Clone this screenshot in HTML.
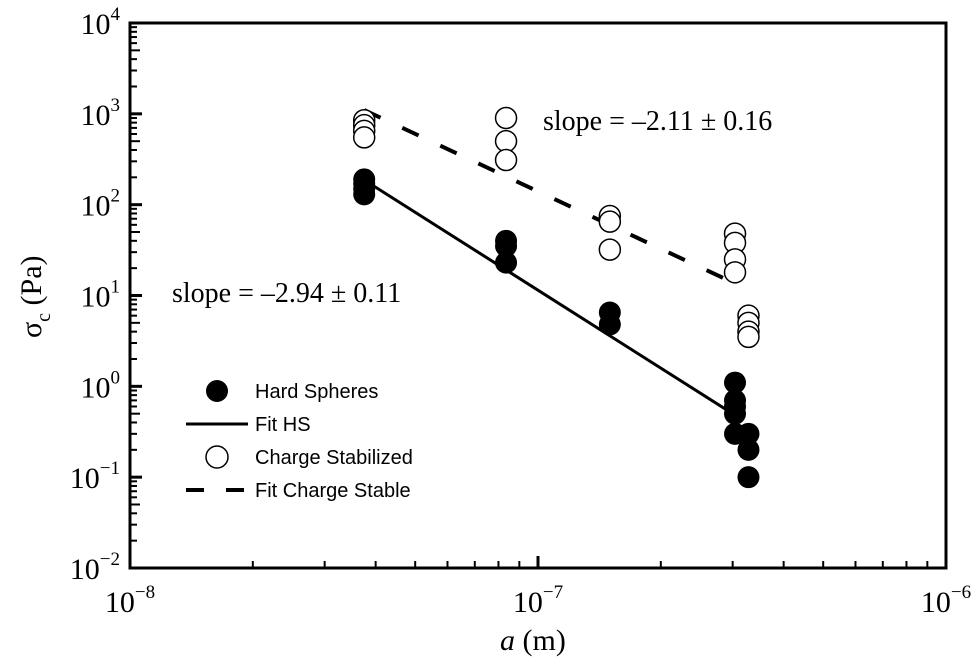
<!DOCTYPE html>
<html><head><meta charset="utf-8"><style>
body{margin:0;background:#fff;}
svg{display:block;}
.tk{font-family:"Liberation Serif",serif;font-size:30px;fill:#000;}
.an{font-family:"Liberation Serif",serif;font-size:28px;fill:#000;}
.lg{font-family:"Liberation Sans",sans-serif;font-size:20px;fill:#000;}
</style></head><body>
<svg id="chart" width="974" height="663" xmlns="http://www.w3.org/2000/svg">
<g id="axes"></g>
<g id="marks"></g>
<text class="an" x="172" y="302">slope = –2.94 ± 0.11</text>
<text class="an" x="543" y="130">slope = –2.11 ± 0.16</text>
<text class="tk" x="500" y="650"><tspan font-style="italic">a</tspan> (m)</text>
<text class="tk" transform="translate(41,338) rotate(-90)">σ<tspan font-size="20" dy="9">c</tspan><tspan dy="-9"> (Pa)</tspan></text>
<g id="legend">
<circle cx="217" cy="391" r="11" fill="#000"/>
<text class="lg" x="255" y="398">Hard Spheres</text>
<line x1="186" y1="424" x2="248" y2="424" stroke="#000" stroke-width="3"/>
<text class="lg" x="255" y="431">Fit HS</text>
<circle cx="217" cy="457" r="11" fill="#fff" stroke="#000" stroke-width="1.5"/>
<text class="lg" x="255" y="464">Charge Stabilized</text>
<line x1="186" y1="490" x2="248" y2="490" stroke="#000" stroke-width="4" stroke-dasharray="18,22"/>
<text class="lg" x="255" y="497">Fit Charge Stable</text>
</g>
</svg>
<script>
const hsX=[3.75e-8,3.75e-8,3.75e-8,3.75e-8,8.35e-8,8.35e-8,8.35e-8,1.5e-7,1.5e-7,3.04e-7,3.04e-7,3.04e-7,3.04e-7,3.04e-7,3.28e-7,3.28e-7,3.28e-7];
const hsY=[190,170,150,130,40,35,23,6.5,4.8,1.1,0.7,0.6,0.5,0.3,0.3,0.2,0.1];
const csX=[3.75e-8,3.75e-8,3.75e-8,3.75e-8,8.35e-8,8.35e-8,8.35e-8,1.5e-7,1.5e-7,1.5e-7,3.04e-7,3.04e-7,3.04e-7,3.04e-7,3.28e-7,3.28e-7,3.28e-7,3.28e-7];
const csY=[850,750,650,550,900,500,310,75,65,32,48,38,25,18,6,5,4,3.5];
const fitHsX=[3.75e-8,3.0e-7];
const fitHsY=[187,0.5];
const fitCsX=[3.75e-8,3.1e-7];
const fitCsY=[1100,13];
const xTickExp=[-8,-7,-6];
const yTickExp=[-2,-1,0,1,2,3,4];

const L=130,R=946,T=23,B=568;
const xs=v=>L+(Math.log10(v)+8)*(R-L)/2;
const ys=v=>B-(Math.log10(v)+2)*(B-T)/6;
const NS="http://www.w3.org/2000/svg";
function mk(tag,attrs,parent){const e=document.createElementNS(NS,tag);for(const k in attrs)e.setAttribute(k,attrs[k]);parent.appendChild(e);return e;}
const ax=document.getElementById('axes'),mg=document.getElementById('marks');
let f=mk('rect',{x:L,y:T,width:R-L,height:B-T,fill:'none',stroke:'#000','stroke-width':3},ax);


yTickExp.forEach(e=>{
  const y=ys(Math.pow(10,e));
  let t=mk('line',{x1:L,x2:L+12,y1:y,y2:y,stroke:'#000','stroke-width':3},ax);
  
  
  if(e<4)for(let m=2;m<10;m++){const yy=ys(m*Math.pow(10,e));
    let tm=mk('line',{x1:L,x2:L+(m==5?10:7),y1:yy,y2:yy,stroke:'#000','stroke-width':2},ax);
    
    }
  let tx=mk('text',{class:'tk',x:L-10,y:y+11,'text-anchor':'end'},ax);
  
  
  tx.innerHTML='10<tspan font-size="19" dy="-14">'+(e<0?'−'+(-e):e)+'</tspan>';
});
xTickExp.forEach(e=>{
  const x=xs(Math.pow(10,e));
  let t=mk('line',{x1:x,x2:x,y1:B,y2:B-12,stroke:'#000','stroke-width':3},ax);
  
  
  if(e<-6)for(let m=2;m<10;m++){const xx=xs(m*Math.pow(10,e));
    let tm=mk('line',{x1:xx,x2:xx,y1:B,y2:B-7,stroke:'#000','stroke-width':2},ax);
    
    }
  let tx=mk('text',{class:'tk',x:x,y:B+44,'text-anchor':'middle'},ax);
  
  
  tx.innerHTML='10<tspan font-size="19" dy="-14">−'+(-e)+'</tspan>';
});
let lh=mk('line',{x1:xs(fitHsX[0]),y1:ys(fitHsY[0]),x2:xs(fitHsX[1]),y2:ys(fitHsY[1]),stroke:'#000','stroke-width':3},mg);


let lc=mk('line',{x1:xs(fitCsX[0]),y1:ys(fitCsY[0]),x2:xs(fitCsX[1]),y2:ys(fitCsY[1]),stroke:'#000','stroke-width':4,'stroke-dasharray':'18,24'},mg);


csX.forEach((x,i)=>{let c=mk('circle',{cx:xs(x),cy:ys(csY[i]),r:10.5,fill:'#fff',stroke:'#000','stroke-width':1.5},mg);
  
  });
hsX.forEach((x,i)=>{let c=mk('circle',{cx:xs(x),cy:ys(hsY[i]),r:11,fill:'#000'},mg);
  
  });
</script>
</body></html>
